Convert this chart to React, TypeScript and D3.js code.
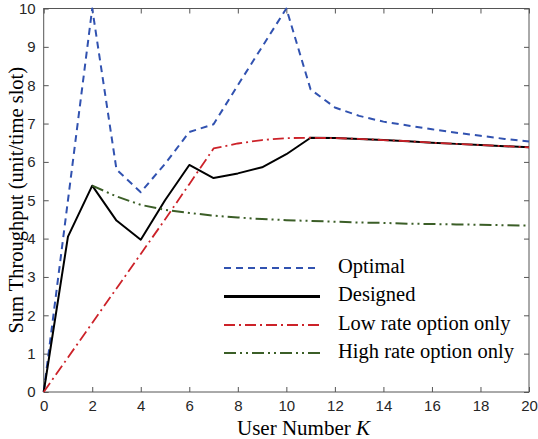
import React, { useEffect, useRef } from 'react';
import * as d3 from 'd3';

const users = [0, 1, 2, 3, 4, 5, 6, 7, 8, 9, 10, 11, 12, 13, 14, 15, 16, 17, 18, 19, 20];
const optimal = [0, 5, 10, 5.8, 5.21, 5.95, 6.78, 6.98, 8.0, 9.0, 10, 7.89, 7.42, 7.2, 7.05, 6.95, 6.85, 6.76, 6.68, 6.6, 6.53];
const designed = [0, 4.05, 5.38, 4.47, 3.97, 5.0, 5.92, 5.58, 5.7, 5.86, 6.2, 6.63, 6.62, 6.6, 6.57, 6.54, 6.5, 6.47, 6.44, 6.41, 6.38];
const lowRate = [0, 0.9, 1.8, 2.7, 3.6, 4.5, 5.42, 6.35, 6.48, 6.57, 6.62, 6.63, 6.62, 6.6, 6.57, 6.54, 6.5, 6.47, 6.44, 6.41, 6.38];
const highUsers = [2, 3, 4, 5, 6, 7, 8, 9, 10, 11, 12, 13, 14, 15, 16, 17, 18, 19, 20];
const highRate = [5.38, 5.1, 4.88, 4.75, 4.67, 4.6, 4.55, 4.51, 4.48, 4.46, 4.44, 4.42, 4.41, 4.39, 4.38, 4.37, 4.36, 4.35, 4.34];

const xTicks = [0, 2, 4, 6, 8, 10, 12, 14, 16, 18, 20];
const yTicks = [0, 1, 2, 3, 4, 5, 6, 7, 8, 9, 10];

const series = [
  { name: 'Optimal', xs: users, ys: optimal, color: '#3152b0', width: 2, dash: '7,5' },
  { name: 'Designed', xs: users, ys: designed, color: '#000000', width: 2, dash: null },
  { name: 'Low rate option only', xs: users, ys: lowRate, color: '#cc2229', width: 1.8, dash: '11,4,2,4' },
  { name: 'High rate option only', xs: highUsers, ys: highRate, color: '#3b5e27', width: 2, dash: '12,4,2,4,2,4' },
];

const serif = "'Liberation Serif', 'Times New Roman', Times, serif";
const sans = "'Liberation Sans', Arial, Helvetica, sans-serif";

const App = () => {
  const svgRef = useRef(null);

  useEffect(() => {
    const W = 538;
    const H = 439;
    const margin = { top: 8.5, right: 9, bottom: 47, left: 43.7 };
    const width = W - margin.left - margin.right;
    const height = H - margin.top - margin.bottom;

    const svg = d3.select(svgRef.current);
    svg.selectAll('*').remove();

    const x = d3.scaleLinear().domain([0, 20]).range([margin.left, margin.left + width]);
    const y = d3.scaleLinear().domain([0, 10]).range([margin.top + height, margin.top]);

    const axisColor = '#555555';
    const tickLen = 5;

    // frame
    svg
      .append('rect')
      .attr('x', x(0))
      .attr('y', y(10))
      .attr('width', width)
      .attr('height', height)
      .attr('fill', 'none')
      .attr('stroke', axisColor)
      .attr('stroke-width', 1);

    const styleAxis = (g) => {
      g.select('.domain').remove();
      g.selectAll('line').attr('stroke', axisColor);
      g.selectAll('text')
        .attr('fill', '#262626')
        .attr('font-family', sans)
        .attr('font-size', 15);
    };

    svg
      .append('g')
      .attr('transform', `translate(0,${y(0)})`)
      .call(d3.axisBottom(x).tickValues(xTicks).tickSizeInner(-tickLen).tickSizeOuter(0).tickPadding(8))
      .call(styleAxis);
    svg
      .append('g')
      .attr('transform', `translate(0,${y(10)})`)
      .call(d3.axisTop(x).tickValues(xTicks).tickSizeInner(-tickLen).tickSizeOuter(0).tickFormat(() => ''))
      .call(styleAxis);
    svg
      .append('g')
      .attr('transform', `translate(${x(0)},0)`)
      .call(d3.axisLeft(y).tickValues(yTicks).tickSizeInner(-tickLen).tickSizeOuter(0).tickPadding(8))
      .call(styleAxis);
    svg
      .append('g')
      .attr('transform', `translate(${x(20)},0)`)
      .call(d3.axisRight(y).tickValues(yTicks).tickSizeInner(-tickLen).tickSizeOuter(0).tickFormat(() => ''))
      .call(styleAxis);

    const line = d3
      .line()
      .x((d) => x(d[0]))
      .y((d) => y(d[1]));

    series.forEach((s) => {
      svg
        .append('path')
        .datum(s.xs.map((v, i) => [v, s.ys[i]]))
        .attr('d', line)
        .attr('fill', 'none')
        .attr('stroke', s.color)
        .attr('stroke-width', s.width)
        .attr('stroke-dasharray', s.dash)
        .attr('stroke-linejoin', 'round');
    });

    // legend
    const legend = svg.append('g').attr('transform', 'translate(224,0)');
    const legendY = [268, 296.5, 325, 353];
    series.forEach((s, i) => {
      legend
        .append('line')
        .attr('x1', 0)
        .attr('x2', 96)
        .attr('y1', legendY[i])
        .attr('y2', legendY[i])
        .attr('stroke', s.color)
        .attr('stroke-width', s.name === 'Designed' ? 3 : s.width)
        .attr('stroke-dasharray', s.dash);
      legend
        .append('text')
        .attr('x', 114)
        .attr('y', legendY[i] + 4.5)
        .attr('font-family', serif)
        .attr('font-size', 20.5)
        .attr('fill', '#000')
        .text(s.name);
    });

    // axis labels
    const xl = svg
      .append('text')
      .attr('x', 237)
      .attr('y', 435)
      .attr('text-anchor', 'start')
      .attr('font-family', serif)
      .attr('font-size', 21)
      .attr('fill', '#000');
    xl.append('tspan').text('User Number ');
    xl.append('tspan').attr('font-style', 'italic').text('K');

    svg
      .append('text')
      .attr('transform', `translate(23,${y(5)}) rotate(-90)`)
      .attr('text-anchor', 'middle')
      .attr('font-family', serif)
      .attr('font-size', 20.5)
      .attr('fill', '#000')
      .text('Sum Throughput (unit/time slot)');
  }, []);

  return (
    <svg ref={svgRef} width={538} height={439} style={{ position: 'absolute', left: 0, top: 0, background: '#fff' }}></svg>
  );
};

export default App;
